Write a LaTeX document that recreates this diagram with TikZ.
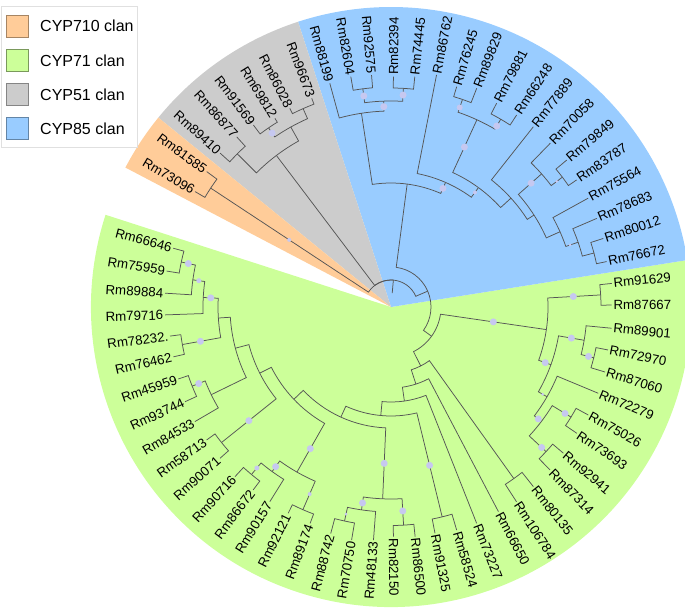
\documentclass[tikz,border=0pt]{standalone}
\usepackage{fontspec}
\setmainfont{Liberation Sans}
\definecolor{cOr}{HTML}{FFCC99}
\definecolor{cGr}{HTML}{CCFF99}
\definecolor{cGy}{HTML}{CCCCCC}
\definecolor{cBl}{HTML}{99CCFF}
\definecolor{cDot}{HTML}{C6C8F0}
\definecolor{cLine}{HTML}{555555}
% node: name, angle, radius (polar, centre of tree)
\newcommand\N[3]{\coordinate (#1) at (#2:#3);%
  \expandafter\xdef\csname nd@#1@a\endcsname{#2}%
  \expandafter\xdef\csname nd@#1@r\endcsname{#3}}
% edge parent -> child : arc at parent radius, then radial line
\newcommand\E[2]{\draw[br] (#1) arc[start angle=\csname nd@#1@a\endcsname,
  end angle=\csname nd@#2@a\endcsname, radius=\csname nd@#1@r\endcsname] -- (#2);}
\newcommand\lfR[4]{\N{#1}{#2}{#3}\node[lbl,anchor=west,rotate=#2] (#1l) at (#1) {#4};}
\newcommand\lfL[4]{\N{#1}{#2}{#3}\node[lbl,anchor=east,rotate=#2-180] (#1l) at (#1) {#4};}
\newcommand\dt[3]{\fill[dot] (#1:#2) circle[radius=#3];}
\begin{document}
\begin{tikzpicture}[x=1pt,y=1pt,
  br/.style={draw=cLine,line width=0.75pt},
  lbl/.style={font=\fontsize{13.3}{15}\selectfont,inner sep=1.8pt,outer sep=0pt},
  dot/.style={fill=cDot},
  sw/.style={minimum size=21.5pt,inner sep=0pt,line width=0.6pt},
  lg/.style={font=\fontsize{16}{19}\selectfont,anchor=west,inner sep=0pt}]
\useasboundingbox (0,0) rectangle (685,-613);
\begin{scope}[shift={(391,-307)}]
\coordinate (ctr) at (0,0);
% clan wedges
\fill[cGr] (ctr) -- (162.1:300) arc[start angle=162.1,end angle=369,radius=300] -- cycle;
\fill[cBl] (ctr) -- (369:300) arc[start angle=369,end angle=468.05,radius=300] -- cycle;
\fill[cGy] (ctr) -- (468.05:300) arc[start angle=468.05,end angle=500.85,radius=300] -- cycle;
\fill[cOr] (ctr) -- (500.85:300) arc[start angle=500.85,end angle=512.3,radius=300] -- cycle;
% internal nodes
\N{root}{445}{27}\N{rootin}{445}{14}
\N{n1}{383.375}{40}
\N{gz}{324.24}{50}
\N{gr}{351.73}{157}
\N{p1}{363.3}{210}\N{p2}{340.16}{170}\N{p3}{350.225}{196}\N{p5}{345.95}{209}
\N{p4}{330.09}{180}\N{p6}{322.775}{189}\N{p7}{328.55}{211}\N{p8}{317.0}{212}
\N{g1}{296.75}{66}\N{q1}{305.6}{211}\N{l22}{287.9}{81}\N{l21}{278.1}{95}
\N{l20}{264.61}{109}\N{q2}{283.7}{216}\N{l19}{245.52}{121}
\N{r2}{267.51}{192}\N{r1}{261.725}{205}\N{r2a}{273.3}{218.5}\N{r0}{257.75}{219}
\N{l12}{223.53}{134}\N{l18}{240.325}{190}\N{l16}{234.15}{203}\N{l17}{246.5}{221}
\N{l14}{230.2}{218}\N{l9}{206.74}{147}\N{l11}{218.65}{217}\N{l6}{194.825}{161}
\N{l8}{206.0}{200}\N{l7}{201.7}{214}\N{l5}{183.65}{173}\N{l4}{190.2}{212}
\N{l3}{177.1}{188}\N{l2}{172.2}{200}\N{l1}{167.9}{214.5}
\N{b0}{442.51}{124}\N{bl}{458.675}{196}\N{bl2}{452.05}{206}\N{bl3}{457.35}{220}
\N{bl4}{446.75}{219}\N{brr}{426.35}{136}\N{xx}{413.79}{148}\N{x1}{425.35}{206}
\N{x1a}{431}{219.5}\N{x1b}{419.7}{217.5}\N{x2}{402.22}{162}\N{x3}{392.74}{170}
\N{y1}{401.475}{201}\N{y1a}{397.15}{215}\N{y2}{384.0}{185}\N{y3}{379.1}{198}
\N{y3a}{374.9}{210}
\N{c0}{487.1}{190}\N{c2}{479.1}{206}\N{c1}{473.9}{217}\N{c3}{484.35}{217}
\N{c4}{495.1}{217}\N{o}{506.6}{216}
% leaves
\lfL{t0}{164.9}{225.5}{Rm66646}
\lfL{t1}{170.9}{227.2}{Rm75959}
\lfL{t2}{176.5}{226.4}{Rm89884}
\lfL{t3}{182.0}{226.1}{Rm79716}
\lfL{t4}{187.5}{222.9}{Rm78232.}
\lfL{t5}{192.9}{223.3}{Rm76462}
\lfL{t6}{198.7}{224.6}{Rm45959}
\lfL{t7}{204.7}{226.7}{Rm93744}
\lfL{t8}{210.3}{227.2}{Rm84533}
\lfL{t9}{215.8}{227.3}{Rm58713}
\lfL{t10}{221.5}{228.3}{Rm90071}
\lfL{t11}{227.4}{230.5}{Rm90716}
\lfL{t12}{233.0}{229.0}{Rm86672}
\lfL{t13}{238.1}{229.3}{Rm90157}
\lfL{t14}{243.5}{230.5}{Rm92121}
\lfL{t15}{249.5}{231.0}{Rm89174}
\lfL{t16}{255.1}{234.4}{Rm88742}
\lfL{t17}{260.4}{236.3}{Rm70750}
\lfL{t18}{265.7}{233.7}{Rm48133}
\lfR{t19}{270.6}{229.7}{Rm82150}
\lfR{t20}{276.0}{230.9}{Rm86500}
\lfR{t21}{281.0}{230.5}{Rm91325}
\lfR{t22}{286.4}{232.5}{Rm58524}
\lfR{t23}{291.6}{232.7}{Rm73227}
\lfR{t24}{297.7}{231.1}{Rm66650}
\lfR{t25}{302.8}{231.7}{Rm106784}
\lfR{t26}{308.4}{229.2}{Rm80135}
\lfR{t27}{314.3}{227.7}{Rm87314}
\lfR{t28}{319.7}{226.0}{Rm92941}
\lfR{t29}{325.8}{224.6}{Rm73693}
\lfR{t30}{331.3}{224.9}{Rm75026}
\lfR{t31}{337.4}{224.5}{Rm72279}
\lfR{t32}{343.1}{223.7}{Rm87060}
\lfR{t33}{348.8}{221.2}{Rm72970}
\lfR{t34}{354.5}{221.7}{Rm89901}
\lfR{t35}{360.5}{220.7}{Rm87667}
\lfR{t36}{366.1}{222.0}{Rm91629}
\lfR{t37}{371.9}{220.4}{Rm76672}
\lfR{t38}{377.9}{223.1}{Rm80012}
\lfR{t39}{383.3}{224.0}{Rm78683}
\lfR{t40}{388.9}{225.2}{Rm75564}
\lfR{t41}{394.4}{224.9}{Rm83787}
\lfR{t42}{399.9}{229.0}{Rm79849}
\lfR{t43}{405.8}{228.5}{Rm70058}
\lfR{t44}{411.7}{229.7}{Rm77889}
\lfR{t45}{416.8}{229.5}{Rm66248}
\lfR{t46}{422.6}{229.5}{Rm79881}
\lfR{t47}{428.6}{234.9}{Rm89829}
\lfR{t48}{433.4}{229.9}{Rm76245}
\lfR{t49}{438.9}{236.5}{Rm86762}
\lfR{t50}{444.1}{231.5}{Rm74445}
\lfR{t51}{449.4}{230.3}{Rm82394}
\lfL{t52}{454.8}{232.8}{Rm92575}
\lfL{t53}{459.9}{233.8}{Rm82604}
\lfL{t54}{465.3}{231.9}{Rm88199}
\lfL{t55}{470.8}{223.3}{Rm96673}
\lfL{t56}{477.0}{222.9}{Rm86028}
\lfL{t57}{481.6}{221.5}{Rm69812}
\lfL{t58}{487.1}{228.2}{Rm91569}
\lfL{t59}{492.2}{229.7}{Rm86877}
\lfL{t60}{498.0}{229.9}{Rm89410}
\lfL{t61}{503.7}{228.7}{Rm81585}
\lfL{t62}{509.5}{227.4}{Rm73096}
% branches
\draw[br] (rootin) -- (root);
\E{root}{n1}\E{root}{c0}\E{root}{o}
\E{n1}{b0}\E{n1}{gz}
\E{gz}{gr}\E{gz}{g1}
\E{gr}{p1}\E{gr}{p2}
\E{p1}{t36}\E{p1}{t35}
\E{p2}{p3}\E{p2}{p4}
\E{p3}{t34}\E{p3}{p5}
\E{p5}{t33}\E{p5}{t32}
\E{p4}{t31}\E{p4}{p6}
\E{p6}{p7}\E{p6}{p8}
\E{p7}{t30}\E{p7}{t29}
\E{p8}{t28}\E{p8}{t27}
\E{g1}{l22}\E{g1}{q1}
\E{q1}{t25}\E{q1}{t26}
\E{l22}{l21}\E{l22}{t24}
\E{l21}{l20}\E{l21}{t23}
\E{l20}{l19}\E{l20}{q2}
\E{q2}{t21}\E{q2}{t22}
\E{l19}{l12}\E{l19}{r2}
\E{r2}{r1}\E{r2}{r2a}
\E{r2a}{t19}\E{r2a}{t20}
\E{r1}{r0}\E{r1}{t18}
\E{r0}{t16}\E{r0}{t17}
\E{l12}{l9}\E{l12}{l18}
\E{l18}{l16}\E{l18}{l17}
\E{l17}{t14}\E{l17}{t15}
\E{l16}{l14}\E{l16}{t13}
\E{l14}{t11}\E{l14}{t12}
\E{l9}{l6}\E{l9}{l11}
\E{l11}{t9}\E{l11}{t10}
\E{l6}{l5}\E{l6}{l8}
\E{l8}{l7}\E{l8}{t8}
\E{l7}{t6}\E{l7}{t7}
\E{l5}{l3}\E{l5}{l4}
\E{l4}{t4}\E{l4}{t5}
\E{l3}{l2}\E{l3}{t3}
\E{l2}{l1}\E{l2}{t2}
\E{l1}{t0}\E{l1}{t1}
\E{b0}{bl}\E{b0}{brr}
\E{bl}{t54}\E{bl}{bl2}
\E{bl2}{bl3}\E{bl2}{bl4}
\E{bl3}{t53}\E{bl3}{t52}
\E{bl4}{t51}\E{bl4}{t50}
\E{brr}{t49}\E{brr}{xx}
\E{xx}{x1}\E{xx}{x2}
\E{x1}{x1a}\E{x1}{x1b}
\E{x1a}{t48}\E{x1a}{t47}
\E{x1b}{t46}\E{x1b}{t45}
\E{x2}{t44}\E{x2}{x3}
\E{x3}{y1}\E{x3}{y2}
\E{y1}{t43}\E{y1}{y1a}
\E{y1a}{t42}\E{y1a}{t41}
\E{y2}{t40}\E{y2}{y3}
\E{y3}{t39}\E{y3}{y3a}
\E{y3a}{t38}\E{y3a}{t37}
\E{c0}{c2}\E{c0}{c4}
\E{c2}{c1}\E{c2}{c3}
\E{c1}{t55}\E{c1}{t56}
\E{c3}{t57}\E{c3}{t58}
\E{c4}{t59}\E{c4}{t60}
\E{o}{t61}\E{o}{t62}
% support dots
\dt{506.6}{122}{2}
\dt{484.35}{210.7}{3.5}
\dt{457.35}{212.8}{3.5}\dt{446.75}{212.3}{3.5}\dt{452.05}{200.5}{3.5}
\dt{426.35}{129.5}{3.5}\dt{431}{211}{3}\dt{419.7}{209.6}{3.5}\dt{425.35}{176}{3.5}
\dt{413.79}{142}{2}\dt{401.475}{187}{3.5}\dt{397.15}{208}{1.5}\dt{379.1}{189.5}{1.5}
\dt{363.3}{182.6}{3.5}\dt{351.73}{103.4}{3.5}\dt{350.225}{183}{3.5}\dt{345.95}{203.6}{3.5}
\dt{340.16}{164}{3.5}\dt{330.09}{175}{1.5}\dt{322.775}{185}{3.5}\dt{328.55}{204}{3.5}
\dt{317.0}{206}{3.5}
\dt{167.9}{207.3}{3.5}\dt{172.2}{194}{2.5}\dt{177.1}{180.5}{3.5}\dt{190.2}{193.6}{3.5}
\dt{201.7}{207}{3.5}\dt{218.65}{182}{3.5}\dt{240.325}{163}{3.5}\dt{230.2}{209.6}{2.5}
\dt{234.15}{197}{3.5}\dt{246.5}{204}{2}\dt{257.75}{212}{1.5}\dt{261.725}{198}{3.5}
\dt{273.3}{204.3}{3.5}\dt{267.51}{156.5}{3.5}\dt{283.7}{163}{3.5}
\end{scope}
% legend
\draw[draw=black!12,fill=white,line width=0.6pt] (1,-6.5) rectangle (137,-147.5);
\node[sw,fill=cOr,draw=cOr!65!black] (s1) at (17.5,-26.2) {};
\node[lg] (s1t) at (40,-26.2) {CYP710 clan};
\node[sw,fill=cGr,draw=cGr!60!black] (s2) at (17.5,-60.5) {};
\node[lg] (s2t) at (40,-60.5) {CYP71 clan};
\node[sw,fill=cGy,draw=cGy!65!black] (s3) at (17.5,-94.3) {};
\node[lg] (s3t) at (40,-94.3) {CYP51 clan};
\node[sw,fill=cBl,draw=cBl!65!black] (s4) at (17.5,-128.3) {};
\node[lg] (s4t) at (40,-128.3) {CYP85 clan};
\end{tikzpicture}
\end{document}
